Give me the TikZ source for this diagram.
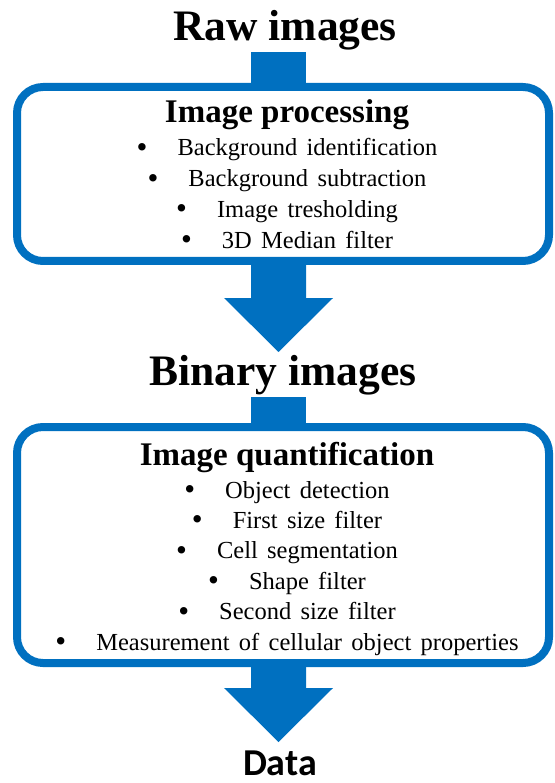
\documentclass[tikz,border=0pt]{standalone}
\usepackage{fontspec}
\setmainfont{Liberation Serif}
\newfontfamily\datafont{Carlito}
\usetikzlibrary{calc}
\definecolor{flowblue}{RGB}{0,112,192}
\newcommand\itemfont{\fontsize{24.5}{28}\selectfont\spaceskip=0.38em\relax}
\newcommand\itembullet{{\fontsize{31}{31}\selectfont\raisebox{-1.5pt}{\textbullet}}\hspace{30pt}}

\begin{document}
\begin{tikzpicture}[x=1pt,y=-1pt,inner sep=0pt,
  title/.style={font=\bfseries\fontsize{43.5}{48}\selectfont,anchor=base},
  heading/.style={font=\bfseries\fontsize{33}{38}\selectfont,anchor=base},
  item/.style={font=\itemfont,anchor=base},
  stage/.style={draw=flowblue,line width=8pt,rounded corners=26pt,minimum width=532pt},
  flow/.style={fill=flowblue}]
\useasboundingbox (0,0) rectangle (554,783);

\node[title] (raw) at (285,41) {Raw images};
\node[stage,minimum height=174pt] (proc) at (283,174) {};
\node[heading] (proch) at (287,123) {Image processing};
\foreach \txt [count=\i] in {Background identification, Background subtraction,
    Image tresholding, 3D Median filter}
  \node[item] (p\i) at (287,156+30.7*\i-30.7) {\itembullet\txt};

\node[title] (bin) at (283,385) {Binary images};
\node[stage,minimum height=236pt] (quant) at (283,545) {};
\node[heading] (quanth) at (287,465) {Image quantification};
\foreach \txt [count=\i] in {Object detection, First size filter, Cell segmentation,
    Shape filter, Second size filter, Measurement of cellular object properties}
  \node[item] (q\i) at (287,498+30.4*\i-30.4) {\itembullet\txt};

\node[title,font=\datafont\bfseries\fontsize{38}{44}\selectfont] (data) at (280,775) {Data};

\coordinate (tip1) at (278.5,352);
\coordinate (tip2) at (278.5,742);
\fill[flow] ($(raw.base -| tip1)+(-27.5,11)$) rectangle ($(proc.north -| tip1)+(27.5,4)$);
\fill[flow] ($(proc.south -| tip1)+(-27.5,-4)$) -- ($(tip1)+(-27.5,-54)$) -- ($(tip1)+(-54.5,-54)$)
  -- (tip1) -- ($(tip1)+(54.5,-54)$) -- ($(tip1)+(27.5,-54)$) -- ($(proc.south -| tip1)+(27.5,-4)$) -- cycle;
\fill[flow] ($(bin.base -| tip2)+(-27.5,12)$) rectangle ($(quant.north -| tip2)+(27.5,4)$);
\fill[flow] ($(quant.south -| tip2)+(-27.5,-4)$) -- ($(tip2)+(-27.5,-54)$) -- ($(tip2)+(-54.5,-54)$)
  -- (tip2) -- ($(tip2)+(54.5,-54)$) -- ($(tip2)+(27.5,-54)$) -- ($(quant.south -| tip2)+(27.5,-4)$) -- cycle;
\end{tikzpicture}
\end{document}
